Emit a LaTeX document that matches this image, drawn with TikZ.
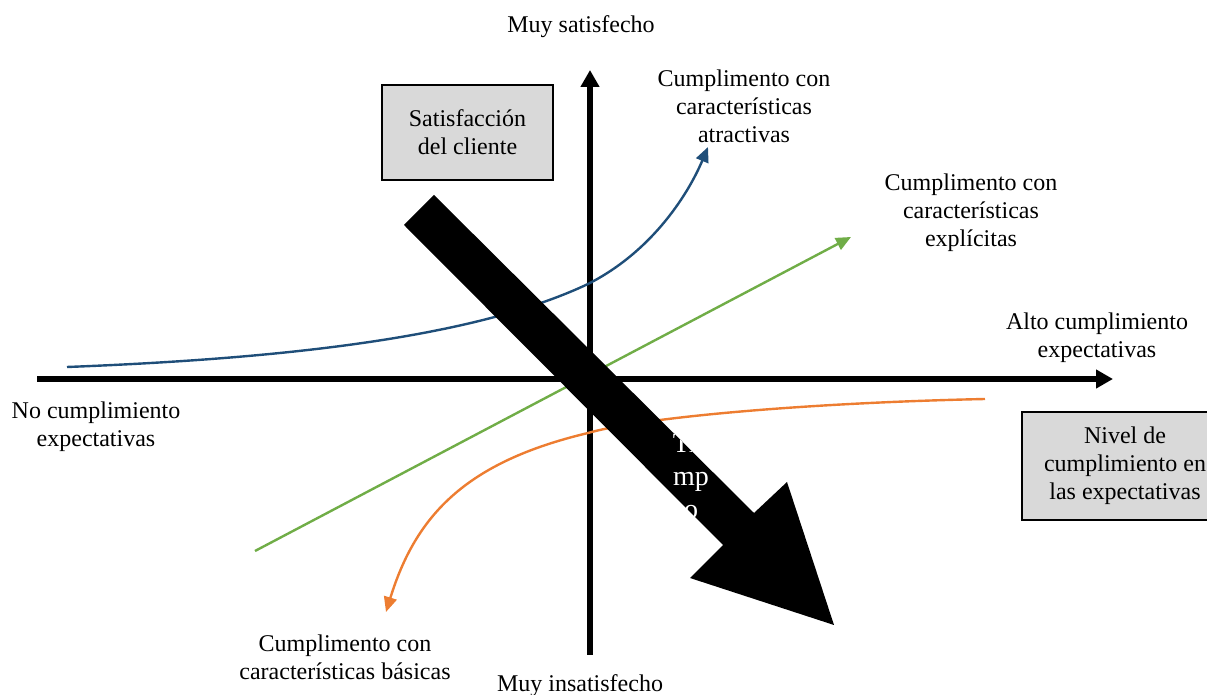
\documentclass[tikz,border=0pt]{standalone}
\usepackage{fontspec}
\setmainfont{Liberation Serif}
\usetikzlibrary{arrows.meta}
\definecolor{cblue}{HTML}{1F4E79}
\definecolor{cgreen}{HTML}{70AD47}
\definecolor{corange}{HTML}{ED7D31}
\definecolor{boxgray}{HTML}{D9D9D9}
\begin{document}
\begin{tikzpicture}[x=0.5pt,y=-0.5pt,
  lbl/.style={font=\fontsize{12}{14}\selectfont,align=center,inner sep=0pt,anchor=base},
  graybox/.style={draw=black,line width=1.3pt,fill=boxgray,font=\fontsize{12}{14}\selectfont,align=center,inner sep=0pt},
  axis/.style={line width=2.6pt,-{Triangle[length=8.5pt,width=9pt]}},
  curve/.style={line width=1.2pt,-{Triangle[length=7.5pt,width=6.5pt]}}]
\useasboundingbox (0,0) rectangle (1207,695);
% axes
\coordinate (xl) at (37,379);
\coordinate (xr) at (1113,379);
\coordinate (yb) at (590,655);
\coordinate (yt) at (590,70);
\draw[axis] (xl) -- (xr);
\draw[axis] (yb) -- (yt);
% green line
\coordinate (gs) at (255,551);
\coordinate (ge) at (851,237);
\draw[curve,cgreen] (gs) -- (ge);
% blue curve
\coordinate (bs) at (67,367);
\coordinate (bm) at (588,284);
\coordinate (be) at (708,147);
\draw[curve,cblue] (bs) .. controls (300,358) and (480,335) .. (bm) .. controls (655,250) and (690,190) .. (be);
% orange curve
\coordinate (os) at (985,399);
\coordinate (om) at (588,433);
\coordinate (oe) at (386,612);
\draw[curve,corange] (os) .. controls (800,403) and (640,418) .. (om) .. controls (466,462) and (416,515) .. (oe);
% big arrow
\coordinate (a1) at (434,195);
\coordinate (a2) at (754,513);
\coordinate (a3) at (787,482);
\coordinate (a4) at (834,625);
\coordinate (a5) at (690,578);
\coordinate (a6) at (723,545);
\coordinate (a7) at (404,225);
\fill[black] (a1) -- (a2) -- (a3) -- (a4) -- (a5) -- (a6) -- (a7) -- cycle;
\begin{scope}
\clip (a1) -- (a2) -- (a3) -- (a4) -- (a5) -- (a6) -- (a7) -- cycle;
\node[lbl,text=white,font=\fontsize{14}{16.5}\selectfont] (tiempo) at (691,519) {Tie\\mp\\o};
\end{scope}
% boxes
\node[graybox,minimum width=85.5pt,minimum height=47.5pt] (sat) at (467.5,132.5) {Satisfacción\\del cliente};
\node[graybox,minimum width=103pt,minimum height=54pt] (niv) at (1125,466) {Nivel de\\cumplimiento en\\las expectativas};
% labels
\node[lbl] (muysat) at (581,33) {Muy satisfecho};
\node[lbl] (atr) at (744,143) {Cumplimento con\\características\\atractivas};
\node[lbl] (exp) at (971,247) {Cumplimento con\\características\\explícitas};
\node[lbl] (alto) at (1097,358) {Alto cumplimiento\\expectativas};
\node[lbl] (nocum) at (96,447) {No cumplimiento\\expectativas};
\node[lbl] (bas) at (345,680) {Cumplimento con\\características básicas};
\node[lbl] (muyins) at (580,691) {Muy insatisfecho};
\end{tikzpicture}
\end{document}
